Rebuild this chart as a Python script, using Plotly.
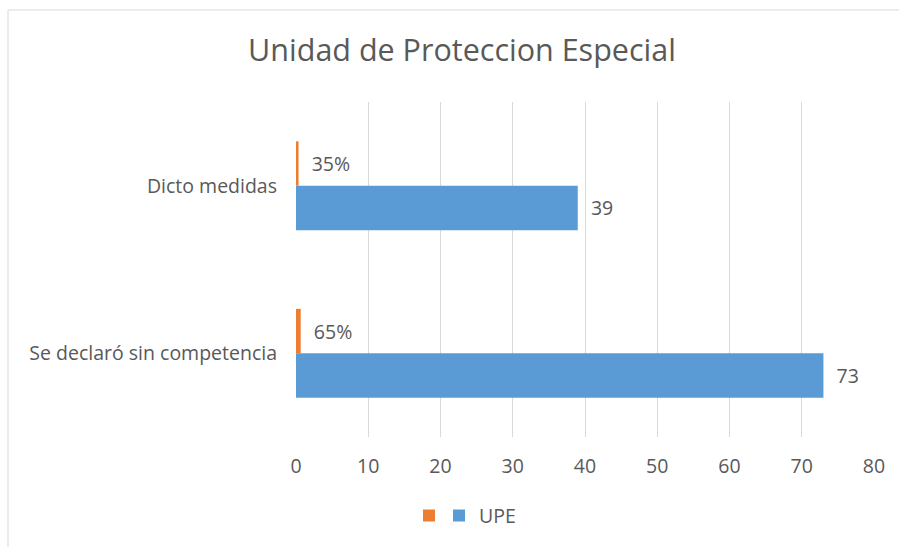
import plotly.graph_objects as go

categories = ["Se declaró sin competencia", "Dicto medidas"]
upe_values = [73, 39]
pct_values = [0.65, 0.35]
pct_labels = ["65%", "35%"]
x_ticks = [0, 10, 20, 30, 40, 50, 60, 70, 80]

FONT = "Open Sans"
GREY = "#595959"
FS = 19.5

fig = go.Figure()
fig.add_trace(go.Bar(
    y=categories, x=upe_values, name="UPE", orientation="h",
    marker=dict(color="#5B9BD5", line=dict(width=0)),
    text=["  " + str(v) for v in upe_values], textposition="outside",
    textfont=dict(family=FONT, size=FS, color=GREY), cliponaxis=False,
    legend="legend",
))
fig.add_trace(go.Bar(
    y=categories, x=pct_values, name="", orientation="h",
    marker=dict(color="#ED7D31", line=dict(width=0)),
    text=["  " + s for s in pct_labels], textposition="outside",
    textfont=dict(family=FONT, size=FS, color=GREY), cliponaxis=False,
    legend="legend2",
))

legend_common = dict(orientation="h", xanchor="left", y=-0.235, yanchor="middle",
                     font=dict(family=FONT, size=FS, color=GREY), itemwidth=30,
                     bgcolor="rgba(0,0,0,0)")

fig.update_layout(
    width=899, height=547,
    margin=dict(l=296, r=25, t=102, b=110),
    paper_bgcolor="white", plot_bgcolor="white",
    barmode="group", bargap=0.47, bargroupgap=0,
    title=dict(text="Unidad de Proteccion Especial", x=462 / 899, xref="container", xanchor="center",
               y=1 - 50 / 547, yref="container", yanchor="middle",
               font=dict(family=FONT, size=30.5, color=GREY)),
    font=dict(family=FONT, size=FS, color=GREY),
    showlegend=True,
    legend=dict(x=(439 - 296) / 578, **legend_common),
    legend2=dict(x=(409 - 296) / 578, **legend_common),
    xaxis=dict(range=[0, 80], tickvals=x_ticks, showgrid=True, gridcolor="#D9D9D9",
               gridwidth=1, zeroline=False, showline=False, ticks="",
               ticklabelstandoff=15, tickfont=dict(family=FONT, size=FS, color=GREY)),
    yaxis=dict(showgrid=False, zeroline=False, showline=False, ticks="",
               ticklabelstandoff=18, tickfont=dict(family=FONT, size=FS, color=GREY)),
    shapes=[dict(type="rect", xref="paper", yref="paper",
                 x0=(8 - 296) / 578, x1=1.2, y0=-0.5, y1=1 + (102 - 10) / 335,
                 line=dict(color="#D9D9D9", width=1), fillcolor="rgba(0,0,0,0)", layer="below")],
)

fig.write_html("out.html", config={"displayModeBar": False},
               post_script="document.body.style.margin='0px';")
